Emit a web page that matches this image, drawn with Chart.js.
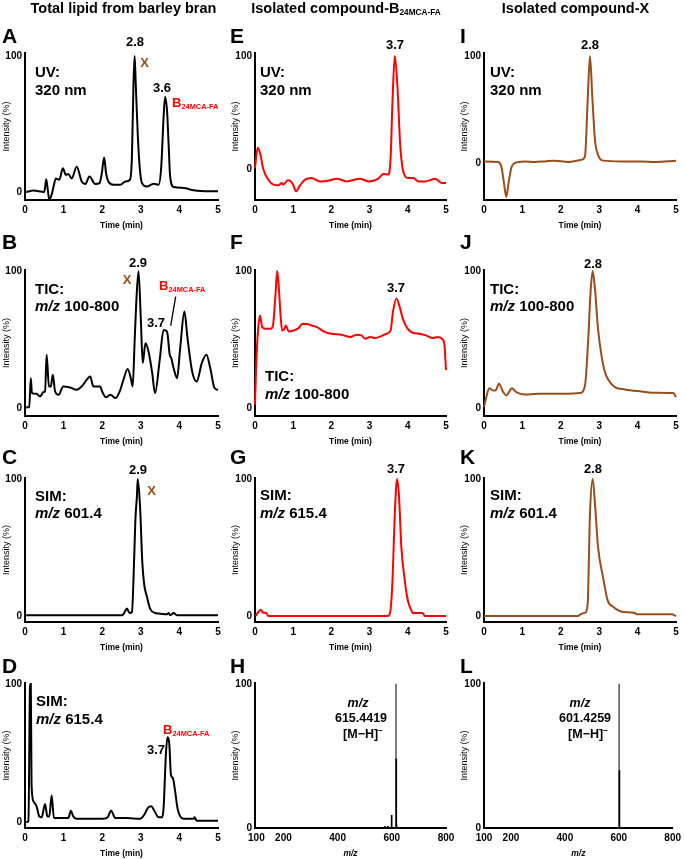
<!DOCTYPE html>
<html>
<head>
<meta charset="utf-8">
<script src="https://cdn.jsdelivr.net/npm/chart.js@4.4.0/dist/chart.umd.min.js"></script>
<style>
  html, body { margin: 0; padding: 0; background: #fff; }
  #fig { position: relative; width: 685px; height: 859px; overflow: hidden; font-family: "Liberation Sans", Arial, sans-serif; }
  #fig canvas { position: absolute; left: 0; top: 0; }
  .t { position: absolute; white-space: nowrap; font-weight: bold; line-height: 1; color: #000; }
  .c { transform: translate(-50%, -50%); }
  .l { transform: translate(0, -50%); }
  .t sub { font-size: 0.57em; vertical-align: baseline; position: relative; top: 0.3em; }
  .t sup { font-size: 0.65em; vertical-align: baseline; position: relative; top: -0.55em; }
  svg { position: absolute; left: 0; top: 0; }
</style>
</head>
<body>
<div id="fig"></div>
<script>
// [time (min), intensity (%)]
const uvTotal = [[0.03,0],[0.22,1],[0.50,0],[0.55,9.4],[0.59,1.7],[0.63,-5.6],[0.69,-2],[0.74,4],[0.80,10],[0.89,9],
  [0.98,17.4],[1.06,12.6],[1.12,13.3],[1.21,10],[1.34,18.6],[1.47,7.7],[1.56,5.8],[1.67,11.4],[1.82,5.8],[1.93,6.5],
  [1.99,13.8],[2.05,25.4],[2.10,13.8],[2.16,7.7],[2.29,5.3],[2.47,5.3],[2.60,7.7],[2.72,9],[2.77,26],[2.81,79],
  [2.84,100],[2.87,79],[2.92,43],[2.97,18.6],[3.03,6.5],[3.16,4],[3.33,6],[3.46,5.3],[3.53,18.6],[3.59,55],
  [3.63,70],[3.68,59.7],[3.72,35.5],[3.76,11.4],[3.85,3.6],[4.11,3],[4.37,1.2],[4.80,0.5],[5.00,0.5]];

const ticTotal = [[0.03,0.5],[0.11,0.5],[0.15,21.8],[0.18,10.9],[0.30,10.4],[0.39,8.5],[0.48,11.7],[0.52,12.1],[0.56,38.8],
  [0.62,15.8],[0.67,15.8],[0.72,24.3],[0.78,12.1],[0.87,9.7],[0.99,15.8],[1.17,15],[1.34,13.3],[1.47,15.8],[1.62,21.4],
  [1.69,23],[1.77,15.8],[1.95,15.8],[1.99,12.6],[2.10,7.8],[2.21,9.7],[2.35,7.3],[2.47,13.3],[2.55,20.6],[2.66,28.4],
  [2.74,21.8],[2.79,15.8],[2.84,48.5],[2.88,75.2],[2.94,100],[3.00,65.5],[3.05,32.8],[3.12,47.3],[3.20,41.3],[3.29,26.7],
  [3.37,10.9],[3.49,35.2],[3.59,57],[3.68,55.8],[3.75,38.8],[3.79,36.4],[3.85,29.1],[3.94,21.8],[4.02,43.7],[4.13,70.4],
  [4.21,51],[4.33,26.7],[4.45,19.4],[4.58,32.8],[4.70,38.8],[4.80,29.1],[4.91,14.6],[5.00,13.3]];

const sim601Total = [[0.03,0.5],[2.51,0.5],[2.57,2.2],[2.64,5.4],[2.71,2.2],[2.77,2.9],[2.83,43.5],[2.86,70.5],[2.90,87.7],
  [2.92,100],[2.98,80.3],[3.04,38.6],[3.09,22.6],[3.16,14],[3.24,5.4],[3.37,2.2],[3.50,1.7],[3.68,1.2],[3.72,2.2],
  [3.76,0.5],[3.85,2.2],[3.94,0.5],[5.00,0.5]];

const sim615Total = [[0.03,0],[0.09,0.5],[0.13,98.3],[0.15,100],[0.17,27],[0.22,15],[0.30,11.4],[0.37,4.1],[0.43,3.4],
  [0.52,13],[0.58,4.1],[0.63,4.1],[0.69,19.3],[0.75,2.9],[0.91,2.9],[1.12,2.9],[1.19,8.2],[1.25,4.1],[1.34,2.4],
  [1.60,2.4],[1.86,2.4],[2.03,2.4],[2.14,3.4],[2.23,8.2],[2.34,2.9],[2.64,2.9],[2.98,2.4],[3.09,5.3],[3.18,10.1],
  [3.27,11.4],[3.36,7.7],[3.46,3.4],[3.55,3.4],[3.59,10.1],[3.65,48.8],[3.69,61.4],[3.74,56],[3.78,34.3],[3.83,31.9],
  [3.89,22.2],[3.95,10.1],[4.02,4.1],[4.11,2.4],[4.37,2.4],[4.39,3.4],[4.45,1],[5.00,1]];

const uvB = [[0,1.5],[0.07,19.2],[0.13,14.8],[0.22,0],[0.35,-8.9],[0.48,-13.3],[0.61,-13.9],[0.70,-11.8],[0.74,-13.3],
  [0.86,-9.5],[0.94,-10.4],[1.00,-13.3],[1.07,-19.2],[1.18,-13.9],[1.31,-8.9],[1.48,-7.4],[1.70,-10.4],[1.92,-9.8],
  [2.14,-8],[2.40,-10.4],[2.75,-8],[2.97,-10.4],[3.23,-8],[3.36,-3.8],[3.49,-4.4],[3.55,10.4],[3.60,60.7],[3.66,100],
  [3.73,72.5],[3.80,22.2],[3.88,-1.5],[4.01,-7.4],[4.14,-7.4],[4.28,-10.4],[4.45,-10.4],[4.62,-8.9],[4.71,-8],
  [4.89,-11.8],[5.00,-11.8]];

const ticB = [[0,2.4],[0.03,31.3],[0.09,60.2],[0.13,67.5],[0.19,59],[0.28,57.8],[0.41,57.8],[0.47,60.2],[0.54,84.3],
  [0.58,100],[0.62,89.2],[0.67,67.5],[0.71,56.6],[0.77,57.8],[0.81,60.2],[0.88,55.9],[1.01,56.6],[1.14,58.3],[1.23,61.4],
  [1.36,61.4],[1.49,60.2],[1.62,59],[1.84,55.4],[2.01,54.2],[2.27,53.5],[2.49,51.8],[2.66,53.5],[2.79,53],[2.88,50.6],
  [3.01,51.8],[3.14,51.1],[3.31,52.5],[3.44,54.2],[3.55,56.6],[3.61,69.9],[3.70,80],[3.79,73.5],[3.87,65.1],[4.00,57.8],
  [4.13,54.9],[4.31,54.2],[4.48,53],[4.65,51.1],[4.78,51.8],[4.91,50.1],[4.96,45.8],[5.00,27.7]];

const simB = [[0.02,0],[0.09,2.9],[0.15,4.6],[0.21,2.4],[0.29,2.4],[0.35,0],[3.48,0],[3.54,2.9],[3.60,26.2],[3.66,75.1],
  [3.72,100],[3.77,87.3],[3.83,50.6],[3.92,26.2],[4.00,11.5],[4.09,4.2],[4.13,2.2],[4.39,2.2],[4.44,0],[5.00,0]];

const uvX = [[0,1.5],[0.37,0.9],[0.45,-3.1],[0.52,-18.6],[0.58,-31.6],[0.64,-18.6],[0.71,-4.6],[0.80,0],[1.06,1.5],
  [1.32,0.9],[1.58,1.5],[1.84,2.2],[2.19,0.9],[2.54,3.1],[2.63,6.2],[2.70,58.8],[2.76,100],[2.82,61.9],[2.89,21.7],
  [2.97,7.7],[3.10,2.2],[3.58,1.5],[4.10,1.5],[4.45,0.9],[5.00,2.2]];

const ticX = [[0,0.7],[0.06,8],[0.14,14.5],[0.23,12.8],[0.30,12.8],[0.39,17.7],[0.50,11.6],[0.58,9.2],[0.73,14.5],
  [0.84,11.6],[1.06,9.9],[1.41,10.4],[1.84,10.4],[2.19,10.4],[2.50,10.9],[2.63,16.5],[2.71,47.9],[2.78,86.7],[2.83,100],
  [2.89,86.7],[2.97,57.6],[3.06,38.3],[3.15,26.2],[3.25,20.1],[3.41,15.3],[3.67,13.6],[4.10,12.1],[4.45,11.1],
  [4.93,10.9],[5.00,8]];

const simX = [[0,0],[2.45,0],[2.54,1.7],[2.64,2.4],[2.70,9],[2.76,74.5],[2.83,100],[2.89,81.8],[2.97,50.2],[3.10,28.4],
  [3.22,11.4],[3.37,6.6],[3.50,4.1],[3.63,2.9],[3.93,2.2],[3.97,1.2],[4.89,1.2],[5.00,0]];

// [m/z, intensity (%)] spectra
const msB = [[575.4,1.2],[585.4,1.2],[599.4,8.8],[615.4,100],[616.4,48],[617.4,2]];
const msX = [[601.4,100],[602.4,40]];

const timeTicks = [0, 1, 2, 3, 4, 5];
const mzTicks = [100, 200, 400, 600, 800];
const intensityTicks = [0, 100];

const BLACK = '#000000', RED = '#ff0000', BROWN = '#974d1c';
const W = 685, H = 859, XH = 31;

const fig = document.getElementById('fig');
Chart.defaults.font.family = '"Liberation Sans", Arial, sans-serif';
Chart.defaults.color = '#000';

function drawPanel(p) {
  const canvas = document.createElement('canvas');
  canvas.width = W;
  canvas.height = H;
  fig.appendChild(canvas);
  const isMs = p.type === 'bar';
  const yW = p.yW || 25;
  const points = p.data.map(d => ({ x: d[0], y: d[1] }));

  new Chart(canvas, {
    type: isMs ? 'bar' : 'line',
    data: {
      datasets: [{
        data: points,
        borderColor: p.color,
        backgroundColor: isMs ? points.map(d => d.y === 100 ? '#666' : '#000') : p.color,
        borderWidth: isMs ? 0 : 2,
        pointRadius: 0,
        cubicInterpolationMode: 'monotone',
        barThickness: 1,
        clip: false
      }]
    },
    options: {
      responsive: false,
      animation: false,
      events: [],
      layout: { padding: { left: p.L - yW, top: p.T, right: W - p.R, bottom: H - p.B - XH } },
      plugins: { legend: { display: false }, tooltip: { enabled: false } },
      scales: {
        x: {
          type: 'linear',
          offset: false,
          min: isMs ? p.xMin : 0,
          max: isMs ? 800 : 5,
          grid: { display: false, drawTicks: false },
          border: { display: true, width: 2, color: '#000' },
          ticks: { font: { size: 10, weight: 'bold' }, padding: 4, maxRotation: 0, autoSkip: false },
          afterBuildTicks: a => { a.ticks = (isMs ? mzTicks : timeTicks).map(v => ({ value: v })); },
          afterFit: s => { s.height = XH; },
          title: {
            display: true,
            text: isMs ? 'm/z' : 'Time (min)',
            font: { size: 8.5, weight: 'bold', style: isMs ? 'italic' : 'normal' },
            padding: 0
          }
        },
        y: {
          min: p.yMin,
          max: p.yMax,
          grid: { display: false, drawTicks: false },
          border: { display: true, width: 2, color: '#000' },
          ticks: { font: { size: 10, weight: 'bold' }, padding: 3 },
          afterBuildTicks: a => { a.ticks = intensityTicks.map(v => ({ value: v })); },
          afterFit: s => { s.width = yW; },
          title: { display: true, text: 'Intensity (%)', font: { size: 9 }, padding: { top: p.ytp || 0, bottom: 0 } }
        }
      }
    }
  });
}

const panels = [
  { data: uvTotal,     color: BLACK, L: 25,  R: 218, T: 53,  B: 200, yMin: -5.9,  yMax: 102.2, ytp: 1 },
  { data: ticTotal,    color: BLACK, L: 25,  R: 218, T: 270, B: 416, yMin: -5.8,  yMax: 100.7, ytp: 1 },
  { data: sim601Total, color: BLACK, L: 25,  R: 218, T: 478, B: 622, yMin: -4.4,  yMax: 100.7, ytp: 1 },
  { data: sim615Total, color: BLACK, L: 25,  R: 218, T: 683, B: 828, yMin: -4.3,  yMax: 100.7, ytp: 1 },
  { data: uvB,         color: RED,   L: 255, R: 446, T: 53,  B: 200, yMin: -26.8, yMax: 102.7 },
  { data: ticB,        color: RED,   L: 255, R: 446, T: 270, B: 416, yMin: -5.8,  yMax: 100.7 },
  { data: simB,        color: RED,   L: 255, R: 446, T: 478, B: 622, yMin: -4.4,  yMax: 100.7 },
  { data: msB, type: 'bar', color: BLACK, L: 255, R: 446, T: 683, B: 828, yMin: 0, yMax: 100.7, xMin: 95 },
  { data: uvX,         color: BROWN, L: 484, R: 676, T: 53,  B: 200, yMin: -34.6, yMax: 102.8 },
  { data: ticX,        color: BROWN, L: 484, R: 676, T: 270, B: 416, yMin: -5.8,  yMax: 100.7 },
  { data: simX,        color: BROWN, L: 484, R: 676, T: 478, B: 622, yMin: -4.4,  yMax: 100.7 },
  { data: msX, type: 'bar', color: BLACK, L: 484, R: 676, T: 683, B: 828, yMin: 0, yMax: 100.7, xMin: 100 }
];
panels.forEach(drawPanel);

// text overlays
function label(x, y, html, size, opts = {}) {
  const d = document.createElement('div');
  d.className = 't ' + (opts.left ? 'l' : 'c');
  d.style.left = x + 'px';
  d.style.top = y + 'px';
  d.style.fontSize = size + 'px';
  if (opts.color) d.style.color = opts.color;
  d.innerHTML = html;
  fig.appendChild(d);
}

const B24 = 'B<sub>24MCA-FA</sub>';

// column headers
label(123.5, 8, 'Total lipid from barley bran', 14.5);
label(346, 8, 'Isolated compound-' + B24, 14.5);
label(575.5, 8, 'Isolated compound-X', 14.5);

// panel letters
[['A', 2, 34.5], ['B', 2, 240.5], ['C', 2, 455.5], ['D', 2, 664.5],
 ['E', 230, 34.5], ['F', 230, 240.5], ['G', 230, 455.5], ['H', 230, 664.5],
 ['I', 460, 34.5], ['J', 460, 240.5], ['K', 460, 455.5], ['L', 460, 664.5]]
  .forEach(([s, x, y]) => label(x, y, s, 21, { left: true }));

// detector captions
const mz = '<i>m/z</i> ';
[[35, 70.5, 'UV:'], [35, 88.5, '320 nm'],
 [35, 287.5, 'TIC:'], [35, 305, mz + '100-800'],
 [35, 495, 'SIM:'], [35, 512, mz + '601.4'],
 [36, 700, 'SIM:'], [36, 717.5, mz + '615.4'],
 [260, 70.5, 'UV:'], [260, 88.5, '320 nm'],
 [265, 375, 'TIC:'], [265, 392.5, mz + '100-800'],
 [260, 493.5, 'SIM:'], [260, 512, mz + '615.4'],
 [490, 70.5, 'UV:'], [490, 88.5, '320 nm'],
 [490, 287.5, 'TIC:'], [490, 305, mz + '100-800'],
 [490, 493.5, 'SIM:'], [490, 512, mz + '601.4']]
  .forEach(([x, y, s]) => label(x, y, s, 15, { left: true }));

// peak labels
[[135, 41, '2.8'], [162, 87, '3.6'], [138, 262, '2.9'], [156, 322, '3.7'], [138, 469, '2.9'], [156, 749, '3.7'],
 [395, 43.5, '3.7'], [396, 286.5, '3.7'], [396, 468, '3.7'],
 [590, 44, '2.8'], [593, 263, '2.8'], [593, 468, '2.8']]
  .forEach(([x, y, s]) => label(x, y, s, 13));

[[144.5, 62], [127, 279], [151.7, 489.5]].forEach(([x, y]) => label(x, y, 'X', 13, { color: BROWN }));
[[172, 102], [159, 285], [163, 728.5]].forEach(([x, y]) => label(x, y, B24, 13, { left: true, color: RED }));

// spectrum captions
label(358, 703, '<i>m/z</i>', 12.5);
label(361, 718, '615.4419', 12.5);
label(363, 733.5, '[M\u2212H]<sup>\u2212</sup>', 12.5);
label(580, 703, '<i>m/z</i>', 12.5);
label(585, 718, '601.4259', 12.5);
label(588, 733.5, '[M\u2212H]<sup>\u2212</sup>', 12.5);

// pointer from B24MCA-FA label to its peak in panel B
fig.insertAdjacentHTML('beforeend',
  '<svg width="685" height="859"><line x1="170.7" y1="325.7" x2="175.7" y2="296.7" stroke="#000" stroke-width="1.3"/></svg>');
</script>
</body>
</html>
